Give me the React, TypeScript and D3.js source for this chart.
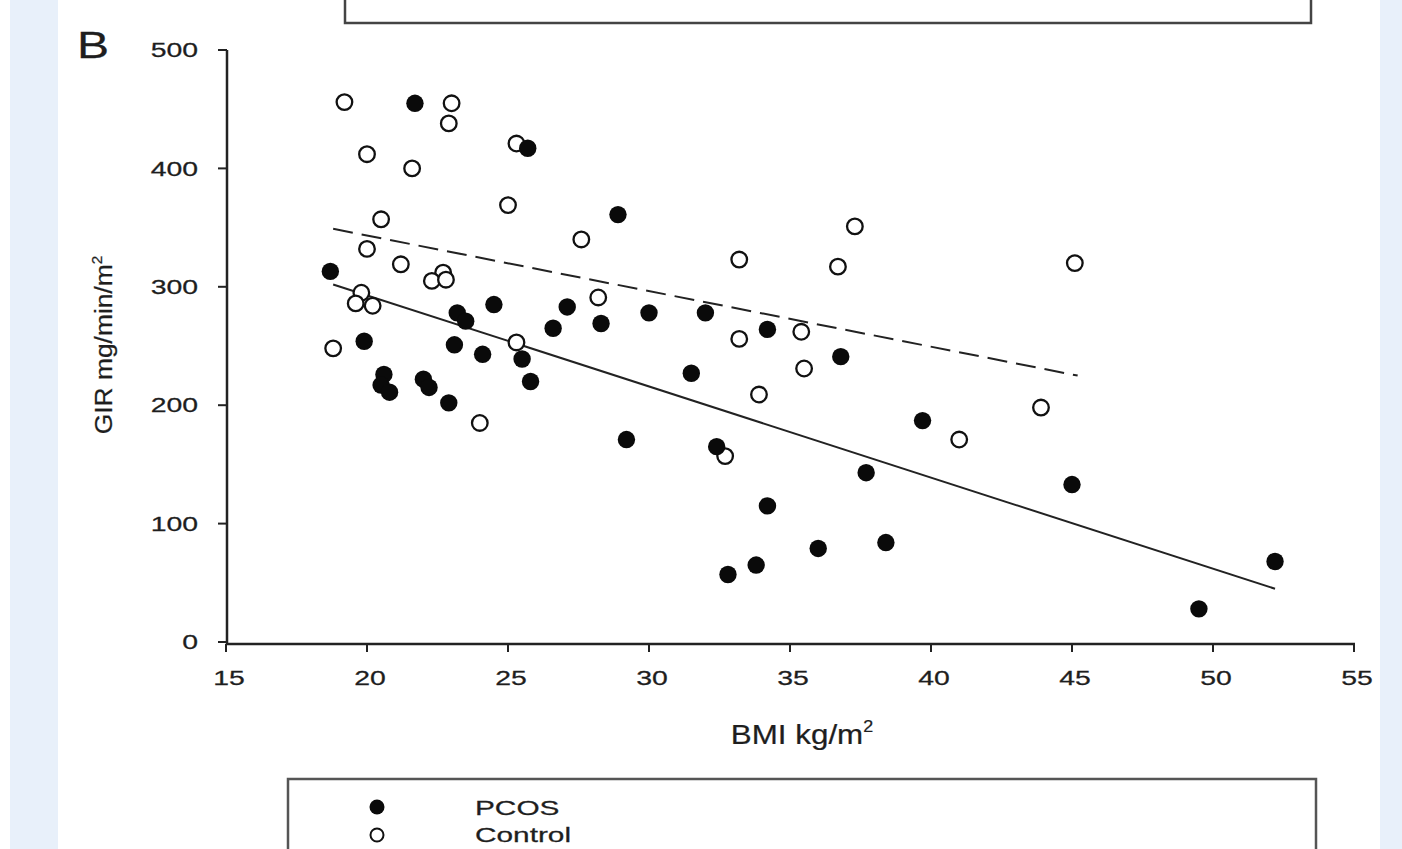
import React from "react";
import * as d3 from "d3";

// BMI (kg/m2), GIR (mg/min/m2)
const pcosBmi = [21.7, 25.7, 28.9, 18.7, 24.5, 23.2, 23.5, 27.1, 26.6, 28.3, 19.9, 23.1, 24.1, 25.5, 20.6, 20.5, 20.8, 22.0, 22.2, 22.9, 25.8, 30.0, 32.0, 34.2, 36.8, 31.5, 39.7, 29.2, 32.4, 37.7, 45.0, 34.2, 36.0, 38.4, 33.8, 32.8, 52.2, 49.5];
const pcosGir = [455, 417, 361, 313, 285, 278, 271, 283, 265, 269, 254, 251, 243, 239, 226, 217, 211, 222, 215, 202, 220, 278, 278, 264, 241, 227, 187, 171, 165, 143, 133, 115, 79, 84, 65, 57, 68, 28];

const controlBmi = [19.2, 23.0, 22.9, 25.3, 20.0, 21.6, 25.0, 20.5, 27.6, 37.3, 20.0, 21.2, 22.7, 22.3, 22.8, 33.2, 36.7, 45.1, 19.8, 19.6, 20.2, 28.2, 18.8, 25.3, 24.0, 35.4, 33.2, 35.5, 33.9, 43.9, 41.0, 32.7];
const controlGir = [456, 455, 438, 421, 412, 400, 369, 357, 340, 351, 332, 319, 312, 305, 306, 323, 317, 320, 295, 286, 284, 291, 248, 253, 185, 262, 256, 231, 209, 198, 171, 157];

// fitted regression lines (endpoints in data units)
const pcosFitBmi = [18.8, 52.2];
const pcosFitGir = [302, 45];
const controlFitBmi = [18.8, 45.2];
const controlFitGir = [349, 225];

const xTicks = [15, 20, 25, 30, 35, 40, 45, 50, 55];
const yTicks = [0, 100, 200, 300, 400, 500];

const legendLabels = ["PCOS", "Control"];

const font = "'Liberation Sans', Arial, sans-serif";
const txt = "#1e1e1e";

function T(props: { x: number; y: number; sx: number; size: number; anchor?: string; rotate?: number; dy?: string; children: any }) {
  const { x, y, sx, size, anchor, rotate, dy, children } = props;
  return (
    <g transform={`translate(${x},${y}) rotate(${rotate || 0}) scale(${sx},1)`}>
      <text x={0} y={0} dy={dy} textAnchor={anchor || "start"} fontFamily={font} fontSize={size} fill={txt} stroke={txt} strokeWidth={0.25}>{children}</text>
    </g>
  );
}

export default function App() {
  const W = 1402, H = 849;
  const x = d3.scaleLinear().domain([15, 55]).range([226, 1354]);
  const y = d3.scaleLinear().domain([0, 500]).range([642, 50]);
  const line = d3.line<[number, number]>().x(d => x(d[0])).y(d => y(d[1]));
  const axisY = 644;
  const axisX = 227;

  const pcos = pcosBmi.map((b, i) => [b, pcosGir[i]] as [number, number]);
  const ctrl = controlBmi.map((b, i) => [b, controlGir[i]] as [number, number]);
  const pFit = pcosFitBmi.map((b, i) => [b, pcosFitGir[i]] as [number, number]);
  const cFit = controlFitBmi.map((b, i) => [b, controlFitGir[i]] as [number, number]);

  return (
    <svg width={W} height={H} style={{ position: "absolute", left: 0, top: 0, background: "#fff" }}>
      <rect x={10} y={0} width={48} height={H} fill="#e8f0fa" />
      <rect x={1380} y={0} width={22} height={H} fill="#e8f0fa" />
      {/* top box (previous panel, cut off) */}
      <rect x={345} y={-60} width={966} height={83} fill="none" stroke="#444" strokeWidth={2.5} />
      {/* legend box */}
      <rect x={288} y={779} width={1028} height={120} fill="none" stroke="#555" strokeWidth={2.5} />

      <T x={77} y={58} sx={1.3} size={37}>B</T>

      {/* axes */}
      <line x1={axisX} x2={axisX} y1={y(500)} y2={axisY} stroke="#222" strokeWidth={2.5} />
      <line x1={axisX} x2={x(55) + 1} y1={axisY} y2={axisY} stroke="#222" strokeWidth={2.5} />
      {yTicks.map(t => (
        <g key={"y" + t}>
          <line x1={axisX - 9} x2={axisX} y1={y(t)} y2={y(t)} stroke="#222" strokeWidth={2} />
          <T x={198} y={y(t)} sx={1.42} size={20} anchor="end" dy="0.36em">{t}</T>
        </g>
      ))}
      {xTicks.map(t => (
        <g key={"x" + t}>
          <line x1={x(t)} x2={x(t)} y1={axisY} y2={axisY + 8} stroke="#222" strokeWidth={2} />
          <T x={x(t) + 3} y={685} sx={1.42} size={20} anchor="middle">{t}</T>
        </g>
      ))}
      <T x={802} y={744} sx={1.12} size={28} anchor="middle">
        BMI kg/m<tspan dy={-12} fontSize={16}>2</tspan>
      </T>
      <T x={112} y={345} sx={1.1} size={24} anchor="middle" rotate={-90}>
        GIR mg/min/m<tspan dy={-10} fontSize={14}>2</tspan>
      </T>

      {/* regression lines */}
      <path d={line(cFit) || ""} fill="none" stroke="#222" strokeWidth={2} strokeDasharray="20,9" />
      <path d={line(pFit) || ""} fill="none" stroke="#222" strokeWidth={2} />

      {/* points */}
      {ctrl.map((d, i) => (
        <circle key={"c" + i} cx={x(d[0])} cy={y(d[1])} r={7.8} fill="#fff" stroke="#111" strokeWidth={2.3} />
      ))}
      {pcos.map((d, i) => (
        <circle key={"p" + i} cx={x(d[0])} cy={y(d[1])} r={8.7} fill="#0a0a0a" />
      ))}

      {/* legend */}
      <circle cx={377} cy={807} r={7.5} fill="#0a0a0a" />
      <circle cx={377} cy={835} r={6.5} fill="#fff" stroke="#111" strokeWidth={2} />
      <T x={475} y={807} sx={1.42} size={21} dy="0.36em">{legendLabels[0]}</T>
      <T x={475} y={834} sx={1.42} size={21} dy="0.36em">{legendLabels[1]}</T>
    </svg>
  );
}
